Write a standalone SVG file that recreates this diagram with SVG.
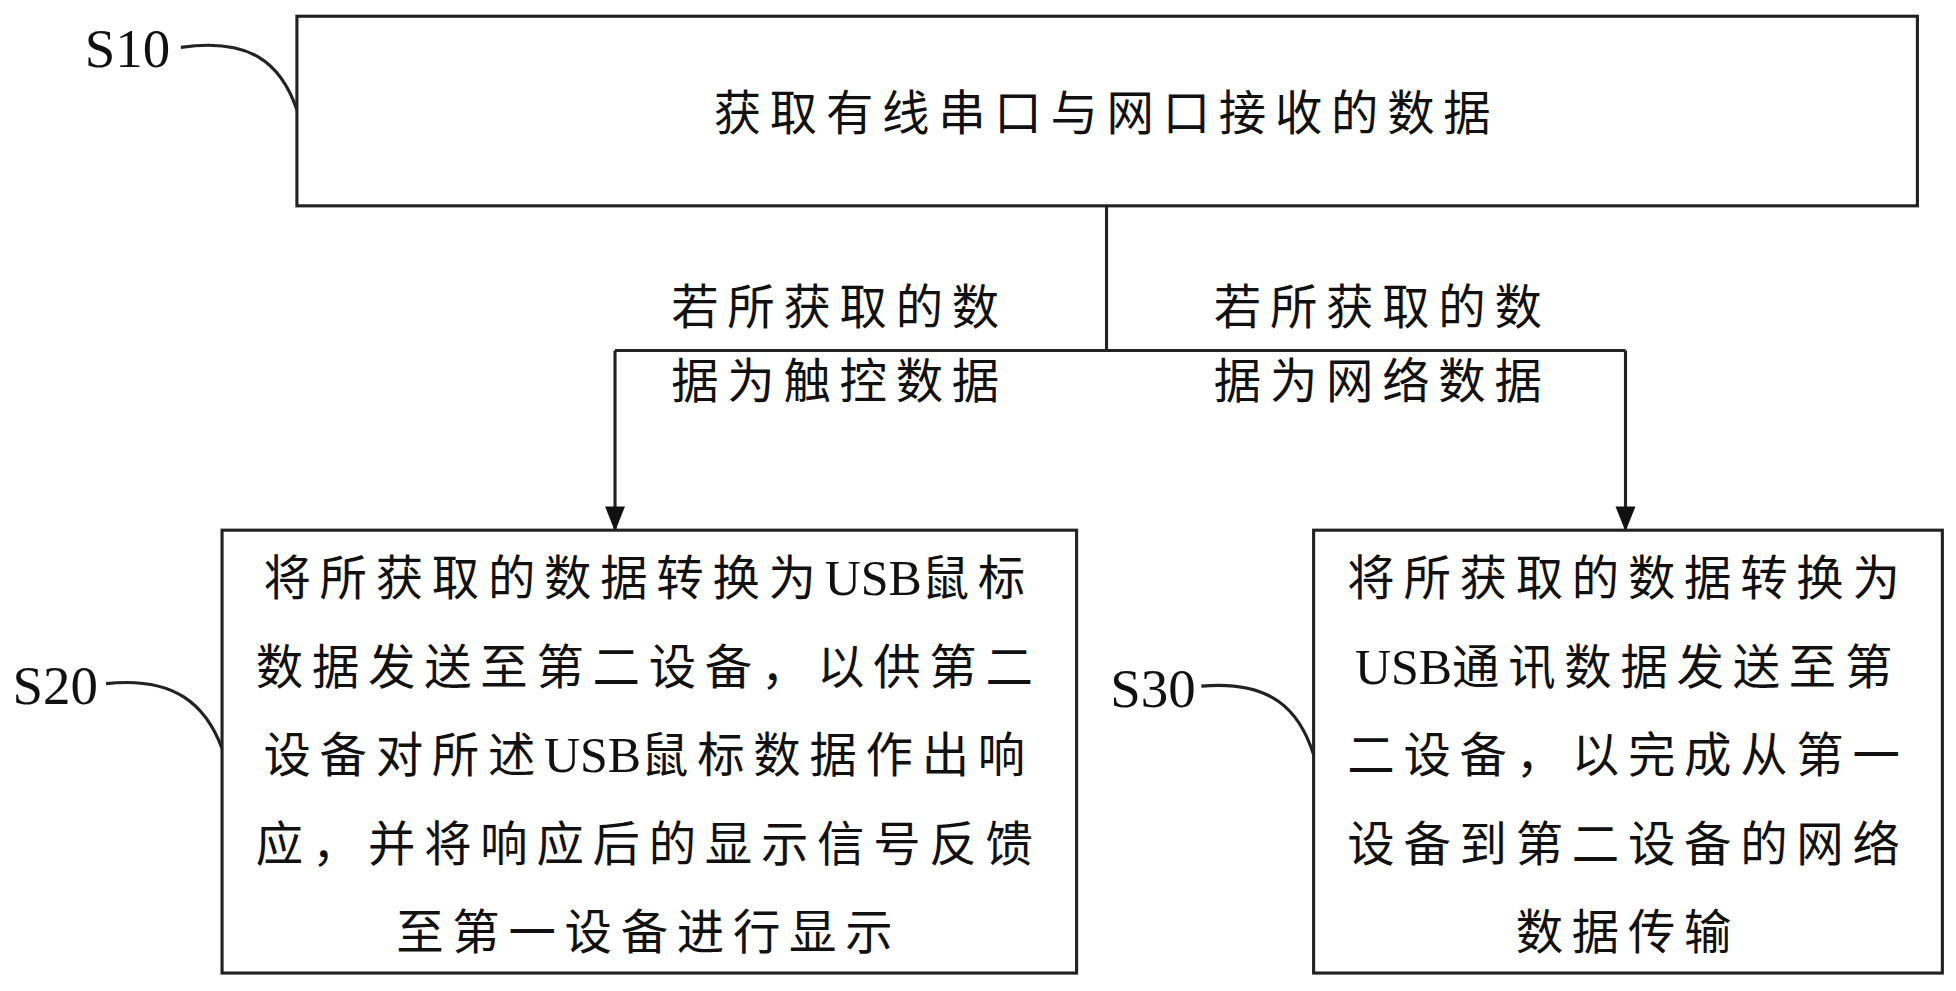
<svg xmlns="http://www.w3.org/2000/svg" width="1956" height="991" viewBox="0 0 1956 991">
<style>
.box{fill:#fff;stroke:#222;stroke-width:2.5}
.t{font-family:"Liberation Serif","Noto Sans CJK SC",serif;font-size:38px;fill:#111;letter-spacing:7px;text-anchor:middle}
.u{letter-spacing:0;font-size:40px}
.lbl{font-family:"Liberation Serif","Noto Sans CJK SC",serif;font-size:44px;fill:#111}
.ln{fill:none;stroke:#222;stroke-width:2.5}
</style>
<defs>
<marker id="a" markerWidth="20" markerHeight="20" refX="18" refY="10" orient="auto" markerUnits="userSpaceOnUse" viewBox="0 0 20 20"><path d="M0,2L20,10L0,18z" fill="#111"/></marker></defs>
<rect width="1956" height="991" fill="#fff"/>
<g transform="scale(1.2475)">
<g id="connectors">
<path class="ln" d="M887,165V281M493,281H1303"/>
<path class="ln" d="M493,281V424" marker-end="url(#a)"/>
<path class="ln" d="M1303,281V424" marker-end="url(#a)"/>
<path class="ln" d="M145,38C200,30 225,50 238,88"/>
<path class="ln" d="M85,548C140,542 165,565 178,600"/>
<path class="ln" d="M963,550C1020,545 1042,570 1053,605"/>
<text class="t" x="673" y="260">若所获取的数</text>
<text class="t" x="673" y="319">据为触控数据</text>
<text class="t" x="1108" y="260">若所获取的数</text>
<text class="t" x="1108" y="319">据为网络数据</text>
</g>
<g id="S10">
<rect class="box" x="238" y="13" width="1299" height="152"/>
<text class="t" x="887" y="104">获取有线串口与网口接收的数据</text>
<text class="lbl" x="68" y="54">S10</text>
</g>
<g id="S20">
<rect class="box" x="178" y="425" width="685" height="355"/>
<text class="t" x="520" y="477">将所获取的数据转换为<tspan class="u">USB</tspan>鼠标</text>
<text class="t" x="520" y="548">数据发送至第二设备，以供第二</text>
<text class="t" x="520" y="619">设备对所述<tspan class="u">USB</tspan>鼠标数据作出响</text>
<text class="t" x="520" y="690">应，并将响应后的显示信号反馈</text>
<text class="t" x="520" y="761">至第一设备进行显示</text>
<text class="lbl" x="10" y="564">S20</text>
</g>
<g id="S30">
<rect class="box" x="1053" y="425" width="504" height="355"/>
<text class="t" x="1305" y="477">将所获取的数据转换为</text>
<text class="t" x="1305" y="548"><tspan class="u">USB</tspan>通讯数据发送至第</text>
<text class="t" x="1305" y="619">二设备，以完成从第一</text>
<text class="t" x="1305" y="690">设备到第二设备的网络</text>
<text class="t" x="1305" y="761">数据传输</text>
<text class="lbl" x="890" y="567">S30</text>
</g>
</g>
</svg>
